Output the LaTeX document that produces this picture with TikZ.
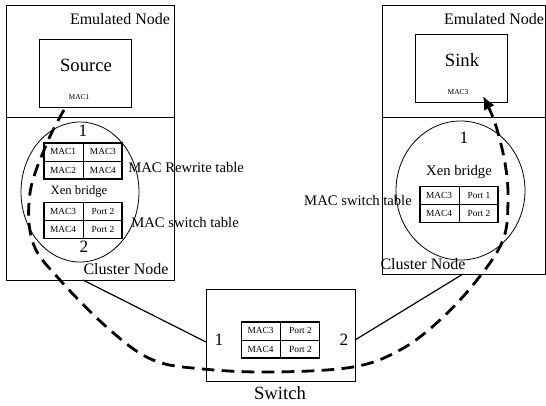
\documentclass[tikz,border=0pt]{standalone}
\usepackage{fontspec}
\setmainfont{Liberation Serif}
\usetikzlibrary{fit,calc,arrows.meta,shapes.geometric}

% 2x2 address table: name, centre, four cell texts
\newcommand\mactable[6]{%
  \node[tbl] (#1) at #2 {};
  \draw[grid] (#1.north) -- (#1.south);
  \draw[grid] (#1.west) -- (#1.east);
  \node[cell] (#1-a) at ($(#1.north west)!0.5!(#1.center)$) {#3};
  \node[cell] (#1-b) at ($(#1.north east)!0.5!(#1.center)$) {#4};
  \node[cell] (#1-c) at ($(#1.south west)!0.5!(#1.center)$) {#5};
  \node[cell] (#1-d) at ($(#1.south east)!0.5!(#1.center)$) {#6};
}

\begin{document}
\begin{tikzpicture}[x=0.75pt,y=-0.75pt,
  box/.style={draw, line width=0.6pt, inner sep=0pt},
  tbl/.style={draw, line width=1.3pt, minimum width=58.5pt, minimum height=27pt, inner sep=0pt},
  grid/.style={line width=0.45pt},
  cell/.style={font=\fontsize{7}{8}\selectfont, inner sep=0pt},
  lbl/.style={font=\fontsize{12}{14}\selectfont, inner sep=0pt},
  big/.style={font=\fontsize{14}{16}\selectfont, inner sep=0pt},
  num/.style={font=\fontsize{13}{15}\selectfont, inner sep=0pt},
  side/.style={font=\fontsize{11}{13}\selectfont, inner sep=0pt},
  tiny/.style={font=\fontsize{5.6}{7}\selectfont, inner sep=0pt},
  bridge/.style={draw, ellipse, line width=0.6pt, inner sep=0pt},
  link/.style={line width=0.9pt},
  flow/.style={line width=2.1pt, dash pattern=on 9.5pt off 5.5pt,
    -{Latex[length=10pt,width=9pt]}}
]
\useasboundingbox (0,0) rectangle (546,405);

% ---- left host: emulated node above, cluster node below
\node[box, fit={(6,5) (174,117)}] (lemu) {};
\node[box, fit={(6,117) (174,280)}] (lclu) {};
\node[lbl] (lemut) at (120,19) {Emulated Node};
\node[box, fit={(39,39) (131,107)}] (src) {};
\node[big] (srct) at (86,65) {Source};
\node[tiny] (srcmac) at (79,97) {MAC1};
\node[bridge, minimum width=88.5pt, minimum height=105pt] (lbr) at (80,192) {};
\node[num] (lbr1) at (83,131) {1};
\mactable{rw}{(83,161)}{MAC1}{MAC3}{MAC2}{MAC4}
\node[font=\fontsize{9.5}{11}\selectfont, inner sep=0pt] (lbrt) at (79,191) {Xen bridge};
\mactable{lsw}{(83,220.5)}{MAC3}{Port 2}{MAC4}{Port 2}
\node[num] (lbr2) at (84,247) {2};
\node[lbl] (lclut) at (126,269) {Cluster Node};
\node[side, anchor=west] (rwt) at (128,167) {MAC Rewrite table};
\node[side, anchor=west] (lswt) at (131,222) {MAC switch table};

% ---- right host
\node[box, fit={(382,5) (545,117)}] (remu) {};
\node[box, fit={(382,117) (545,274)}] (rclu) {};
\node[lbl] (remut) at (494,19) {Emulated Node};
\node[box, fit={(415,34) (507,102)}] (snk) {};
\node[big] (snkt) at (462,60) {Sink};
\node[tiny] (snkmac) at (458,92) {MAC3};
\node[bridge, minimum width=96.75pt, minimum height=104.25pt] (rbr) at (460.5,190.5) {};
\node[num] (rbr1) at (464,138) {1};
\node[side] (rbrt) at (459,172) {Xen bridge};
\mactable{rsw}{(459,204.5)}{MAC3}{Port 1}{MAC4}{Port 2}
\node[side] (rswt) at (358,200) {MAC switch table};
\node[lbl] (rclut) at (423,264) {Cluster Node};

% ---- physical switch
\node[box, fit={(206,289) (355,381)}] (sw) {};
\mactable{ssw}{(280.5,340)}{MAC3}{Port 2}{MAC4}{Port 2}
\node[num] (sw1) at (219,340) {1};
\node[num] (sw2) at (344,340) {2};
\node[big] (swt) at (280,393) {Switch};

% ---- cables
\coordinate (lport) at (83,280);
\coordinate (rport) at (463,274);
\coordinate (swin) at (206,342);
\coordinate (swout) at (355,340);
\draw[link] (lport) -- (swin);
\draw[link] (swout) -- (rport);

% ---- packet path from source to sink
\draw[flow] plot[smooth, tension=0.6] coordinates {
  (64,110) (47,143) (30,193) (33,243) (60,280) (110,330) (153,360)
  (203,369) (273,372) (353,367) (400,350) (440,320) (477,280)
  (503,240) (508,200) (505,163) (495,123) (483,96)};
\end{tikzpicture}
\end{document}
